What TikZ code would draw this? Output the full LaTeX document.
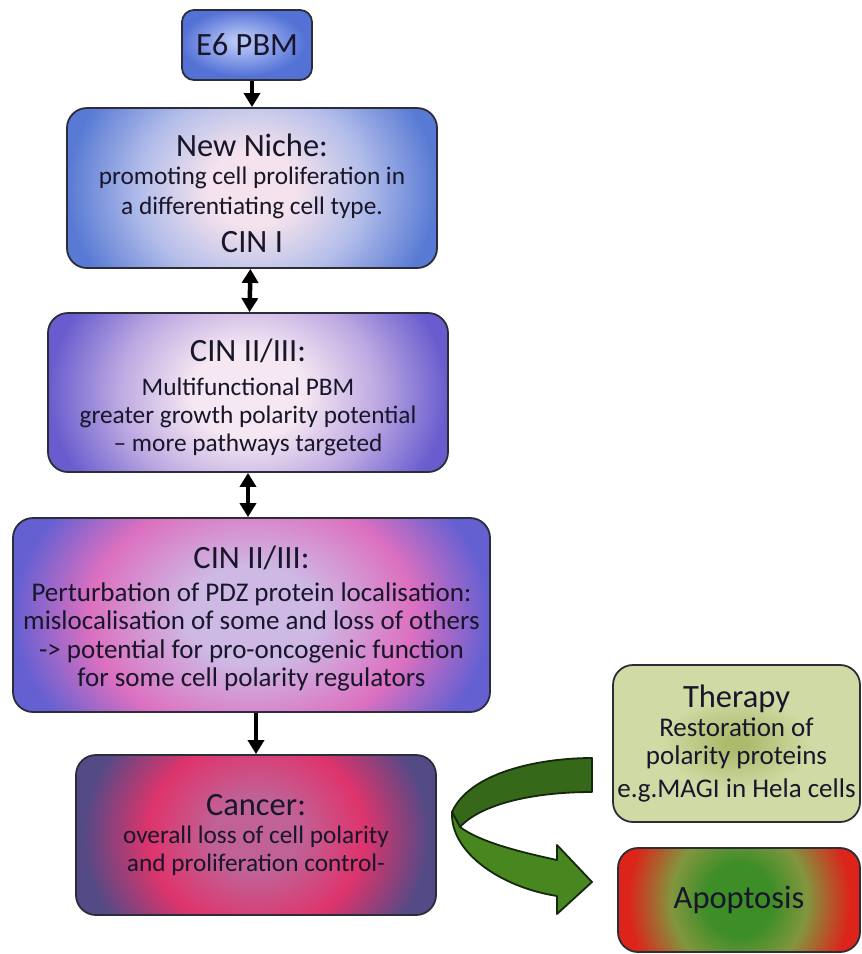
\documentclass[tikz,border=0pt]{standalone}
\usepackage{fontspec}
\setmainfont{Carlito}
\usepackage{xcolor}
\usepackage{tikz}
\usetikzlibrary{arrows.meta, shapes.geometric, positioning, calc}
\definecolor{inkdark}{RGB}{24,22,42}
\definecolor{edgegray}{RGB}{45,45,58}
\definecolor{e6in}{RGB}{182,196,246}
\definecolor{e6out}{RGB}{84,114,214}
\definecolor{nichein}{RGB}{244,226,236}
\definecolor{nichemid}{RGB}{180,190,234}
\definecolor{nicheout}{RGB}{88,122,212}
\definecolor{cinin}{RGB}{246,232,242}
\definecolor{cinmid}{RGB}{190,170,226}
\definecolor{cinout}{RGB}{104,92,206}
\definecolor{pdzin}{RGB}{206,184,228}
\definecolor{pdzring}{RGB}{220,112,192}
\definecolor{pdzout}{RGB}{100,96,210}
\definecolor{cancerin}{RGB}{192,98,150}
\definecolor{cancerring}{RGB}{222,52,108}
\definecolor{cancerout}{RGB}{84,74,134}
\definecolor{therapyin}{RGB}{172,186,108}
\definecolor{therapyout}{RGB}{208,218,164}
\definecolor{apopin}{RGB}{62,142,40}
\definecolor{apopring}{RGB}{130,150,62}
\definecolor{apopout}{RGB}{220,36,26}
\definecolor{bandback}{RGB}{54,104,26}
\definecolor{bandfront}{RGB}{72,134,32}
\definecolor{bandline}{RGB}{22,40,12}

% radial shadings: the box edge sits at 25bp
\pgfdeclareradialshading{e6shade}{\pgfpoint{-3bp}{3bp}}{color(0bp)=(e6in); color(3bp)=(e6in); color(24bp)=(e6out); color(50bp)=(e6out)}
\pgfdeclareradialshading{nicheshade}{\pgfpoint{0bp}{0bp}}{color(0bp)=(nichein); color(6bp)=(nichein); color(15bp)=(nichemid); color(25bp)=(nicheout); color(50bp)=(nicheout)}
\pgfdeclareradialshading{cinshade}{\pgfpoint{0bp}{0bp}}{color(0bp)=(cinin); color(7bp)=(cinin); color(16bp)=(cinmid); color(25bp)=(cinout); color(50bp)=(cinout)}
\pgfdeclareradialshading{pdzshade}{\pgfpoint{0bp}{0bp}}{color(0bp)=(pdzin); color(7bp)=(pdzin); color(17bp)=(pdzring); color(25bp)=(pdzout); color(50bp)=(pdzout)}
\pgfdeclareradialshading{cancershade}{\pgfpoint{0bp}{0bp}}{color(0bp)=(cancerin); color(6bp)=(cancerin); color(15bp)=(cancerring); color(24bp)=(cancerout); color(50bp)=(cancerout)}
\pgfdeclareradialshading{therapyshade}{\pgfpoint{0bp}{0bp}}{color(0bp)=(therapyin); color(2bp)=(therapyin); color(15bp)=(therapyout); color(50bp)=(therapyout)}
\pgfdeclareradialshading{apopshade}{\pgfpoint{0bp}{0bp}}{color(0bp)=(apopin); color(7bp)=(apopin); color(14bp)=(apopring); color(23bp)=(apopout); color(50bp)=(apopout)}

\newcommand{\boxtitle}{\fontsize{32.5}{35}\selectfont}
\newcommand{\boxbody}{\fontsize{25.3}{28}\selectfont}
\newcommand{\boxbodywide}{\fontsize{27}{28.5}\selectfont}

\begin{document}
\begin{tikzpicture}[
    x=1pt, y=-1pt,
    stage/.style={rectangle, rounded corners=20pt, draw=edgegray, line width=1.8pt,
                  align=center, text=inkdark, font=\boxbody, inner sep=0pt},
    glow/.style={path picture={\shade[shading=#1]
                  ([yshift=-80pt]path picture bounding box.south west) rectangle
                  ([yshift=80pt]path picture bounding box.north east);}},
    link/.style={-{Triangle[width=16pt,length=14pt]}, line width=4.5pt, color=black},
    twoway/.style={{Triangle[width=16pt,length=14pt]}-{Triangle[width=16pt,length=14pt]},
                   line width=4.5pt, color=black},
    band/.style={draw=bandline, line width=1.8pt, line join=round}
]
    \useasboundingbox (0,0) rectangle (862,954);

    \node[stage, shading=e6shade, rounded corners=12pt,
          minimum width=130pt, minimum height=70pt] (e6) at (247,45) {\boxtitle E6 PBM};
    \node[stage, glow=nicheshade, minimum width=370pt, minimum height=160pt]
        (niche) at (252,188)
        {{\boxtitle\rule{0pt}{34pt}New Niche:}\\ promoting cell proliferation in\\[2pt]
         a differentiating cell type.\\[10pt] {\boxtitle CIN I}};
    \node[stage, glow=cinshade, minimum width=400pt, minimum height=159pt]
        (cinlow) at (248,392.5)
        {{\boxtitle\rule{0pt}{32pt}CIN II/III:}\\[6pt] Multifunctional PBM\\
         greater growth polarity potential\\ -- more pathways targeted};
    \node[stage, glow=pdzshade, minimum width=477pt, minimum height=194pt,
          font=\boxbodywide]
        (cinhigh) at (251.5,615)
        {{\boxtitle\rule{0pt}{30pt}CIN II/III:}\\[4pt] Perturbation of PDZ protein localisation:\\
         mislocalisation of some and loss of others\\
         -> potential for pro-oncogenic function\\
         for some cell polarity regulators};
    \node[stage, glow=cancershade, minimum width=360pt, minimum height=160pt]
        (cancer) at (256,835)
        {{\boxtitle Cancer:}\\ overall loss of cell polarity\\ and proliferation control-};
    \node[stage, shading=therapyshade, minimum width=247pt, minimum height=157pt,
          font=\boxbodywide]
        (therapy) at (736.5,743.5)
        {{\boxtitle Therapy}\\ Restoration of\\ polarity proteins\\[4pt]
         e.g.MAGI in Hela cells};
    \node[stage, glow=apopshade, minimum width=242pt, minimum height=104pt]
        (apop) at (739,900) {\boxtitle Apoptosis};

    \draw[link] (e6.south -| niche.north) -- (niche.north);
    \draw[twoway] (niche) -- (cinlow);
    \draw[twoway] (cinlow) -- (cinlow.south |- cinhigh.north);
    \draw[link] (cinhigh.south -| cancer.north) -- (cancer.north);

    % twisted arrow from therapy to apoptosis
    \draw[band, fill=bandback] (592,758) .. controls (540,758) and (470,772) .. (452,812)
        -- (460,827) .. controls (480,805) and (530,792) .. (592,792) -- cycle;
    \draw[band, fill=bandfront] (452,812) .. controls (450,852) and (500,887) .. (557,896)
        -- (557,914) -- (592,882) -- (557,845) -- (557,860)
        .. controls (520,852) and (480,842) .. (460,827) -- cycle;
\end{tikzpicture}
\end{document}
